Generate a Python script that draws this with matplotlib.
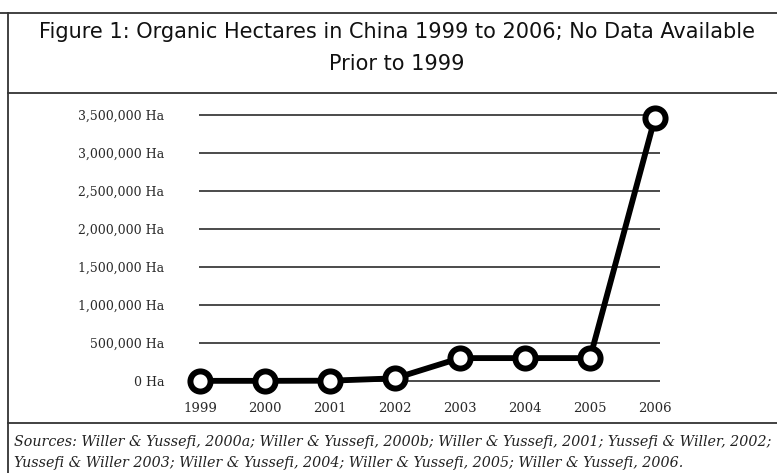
import matplotlib.pyplot as plt
from matplotlib.lines import Line2D
from matplotlib.ticker import FuncFormatter

years = [1999, 2000, 2001, 2002, 2003, 2004, 2005, 2006]
hectares = [2000, 2000, 4000, 35000, 301295, 301295, 301295, 3466570]
y_ticks = [0, 500000, 1000000, 1500000, 2000000, 2500000, 3000000, 3500000]

title = "Figure 1: Organic Hectares in China 1999 to 2006; No Data Available\nPrior to 1999"
sources = ("Sources: Willer & Yussefi, 2000a; Willer & Yussefi, 2000b; Willer & Yussefi, 2001; Yussefi & Willer, 2002;\n"
           "Yussefi & Willer 2003; Willer & Yussefi, 2004; Willer & Yussefi, 2005; Willer & Yussefi, 2006.")

W, H = 777, 473
fig = plt.figure(figsize=(W / 100, H / 100), dpi=100)


def fx(px):
    return px / W


def fy(py):
    return 1 - py / H


# axes placed so that 1999 sits at x=199 px and 0 Ha at y=381 px
ax = fig.add_axes([fx(199), fy(396.2), fx(461), (396.2 - 103.6) / H])
ax.set_xlim(1998.985, 2006.077)
ax.set_ylim(-200000, 3650000)

for v in y_ticks:
    ax.axhline(v, color='#1a1a1a', lw=1.1, zorder=1)

ax.plot(years, hectares, color='black', lw=4.2, marker='o', ms=14.5,
        mfc='white', mec='black', mew=4.3, clip_on=False, zorder=3)

ax.set_yticks(y_ticks)
ax.yaxis.set_major_formatter(FuncFormatter(lambda v, p: f"{int(v):,} Ha"))
ax.set_xticks(years)
ax.set_xticklabels([str(y) for y in years])
ax.tick_params(axis='y', length=0, pad=25, labelsize=9)
ax.tick_params(axis='x', length=0, pad=4, labelsize=9.5)
for lab in ax.get_xticklabels() + ax.get_yticklabels():
    lab.set_family('DejaVu Serif')
    lab.set_color('#2a2a2a')
for s in ax.spines.values():
    s.set_visible(False)

# frame lines of the printed figure box
line_kw = dict(color='#333333', lw=1.3)
fig.add_artist(Line2D([fx(0), 1], [fy(13), fy(13)], **line_kw))
fig.add_artist(Line2D([fx(8), fx(8)], [fy(13), 0], **line_kw))
fig.add_artist(Line2D([fx(8), 1], [fy(93), fy(93)], **line_kw))
fig.add_artist(Line2D([fx(8), 1], [fy(423), fy(423)], **line_kw))

fig.text(fx(397), fy(48), title, ha='center', va='center', fontsize=15,
         family='DejaVu Sans', linespacing=1.75, color='#111111')
fig.text(fx(14), fy(452.5), sources, ha='left', va='center', fontsize=10.3,
         family='DejaVu Serif', style='italic', linespacing=1.55,
         color='#222222')

fig.savefig('out.png', dpi=100)
